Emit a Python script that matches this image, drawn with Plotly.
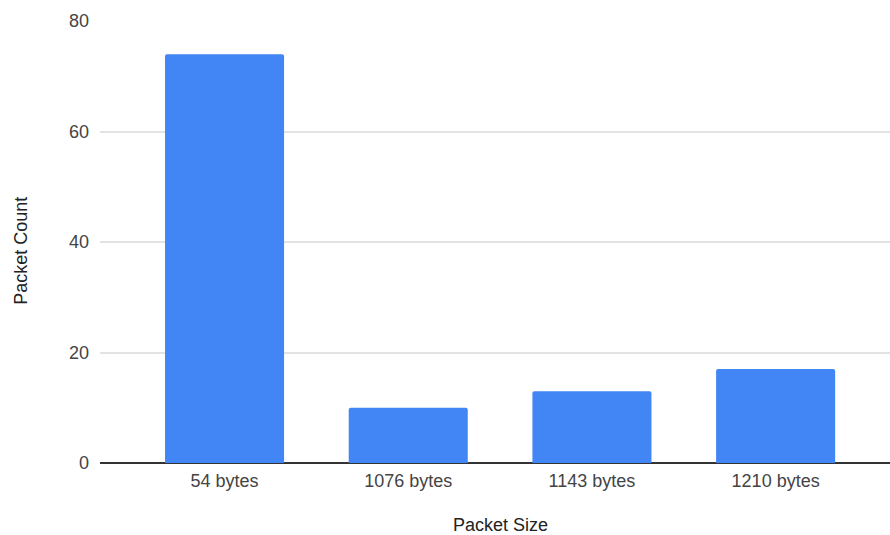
import plotly.graph_objects as go

# Packet size distribution
packet_sizes = ["54 bytes", "1076 bytes", "1143 bytes", "1210 bytes"]
packet_counts = [74, 10, 13, 17]
y_ticks = [0, 20, 40, 60, 80]

font_family = "Liberation Sans, Arial, sans-serif"
text_color = "#444444"
font_size = 18

fig = go.Figure(
    go.Bar(
        x=list(range(len(packet_sizes))),
        y=packet_counts,
        width=0.648,
        marker=dict(color="#4285F4", line=dict(width=0), cornerradius=2),
        hoverinfo="y",
    )
)

fig.update_layout(
    width=890,
    height=535,
    margin=dict(l=100, r=0, t=21, b=71.5),
    paper_bgcolor="white",
    plot_bgcolor="white",
    showlegend=False,
    font=dict(family=font_family, size=font_size, color=text_color),
    xaxis=dict(
        range=[-0.678, 3.6226],
        tickmode="array",
        tickvals=list(range(len(packet_sizes))),
        ticktext=packet_sizes,
        showgrid=False,
        zeroline=False,
        showline=False,
        ticks="",
        ticklabelstandoff=5,
        tickfont=dict(size=font_size, color=text_color),
    ),
    yaxis=dict(
        range=[0, 80],
        tickmode="array",
        tickvals=y_ticks,
        showgrid=True,
        gridcolor="#e3e3e3",
        gridwidth=1.5,
        zeroline=True,
        zerolinecolor="#333333",
        zerolinewidth=1.5,
        showline=False,
        ticks="",
        ticklabelstandoff=10,
        tickfont=dict(size=font_size, color=text_color),
    ),
    annotations=[
        dict(
            text="Packet Size",
            xref="paper", yref="paper",
            x=(500 - 100) / 790, y=0,
            yshift=-74,
            showarrow=False,
            font=dict(size=font_size, color="#222222"),
        ),
        dict(
            text="Packet Count",
            xref="paper", yref="paper",
            x=0, y=(463.5 - 251) / 442.5,
            xshift=-91,
            textangle=-90,
            showarrow=False,
            font=dict(size=font_size, color="#222222"),
        ),
    ],
)

fig.write_html("out.html")
